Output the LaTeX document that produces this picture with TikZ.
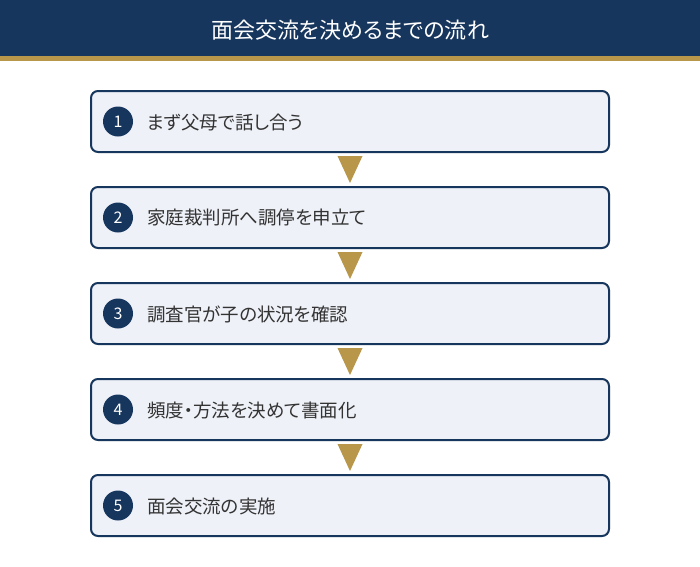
\documentclass[tikz,border=0pt]{standalone}
\usepackage{fontspec}
\setmainfont{Noto Sans CJK JP}[RawFeature=+palt]
\usetikzlibrary{shapes.geometric}
\definecolor{navy}{HTML}{17365D}
\definecolor{gold}{HTML}{B8974A}
\definecolor{boxfill}{HTML}{EEF1F8}
\definecolor{txt}{HTML}{333333}
\tikzset{
  stepbox/.style={draw=navy, line width=2pt, fill=boxfill, rounded corners=7pt,
    minimum width=518pt, minimum height=61pt, inner sep=0pt},
  numdot/.style={circle, fill=navy, minimum size=30pt, inner sep=0pt,
    text=white, font=\fontsize{16}{16}\selectfont},
  steplabel/.style={anchor=west, text=txt, inner sep=0pt, font=\fontsize{18.5}{18.5}\selectfont},
}
\begin{document}
\begin{tikzpicture}[x=1pt,y=-1pt]
\useasboundingbox (0,0) rectangle (700,566);
\fill[white] (0,0) rectangle (700,566);
\fill[navy] (0,0) rectangle (700,55.5);
\fill[gold] (0,55.5) rectangle (700,60.5);
\node[text=white, font=\fontsize{22}{22}\selectfont, inner sep=0pt] (title) at (350,30) {面会交流を決めるまでの流れ};
\foreach \i/\y/\t in {1/121.5/まず父母で話し合う, 2/217.5/家庭裁判所へ調停を申立て, 3/313.5/調査官が子の状況を確認, 4/409.5/頻度・方法を決めて書面化, 5/505.5/面会交流の実施}{
  \node[stepbox] (b\i) at (350,\y) {};
  \node[numdot] (n\i) at (118,\y) {\i};
  \node[steplabel] (l\i) at (147,\y+0.5) {\t};
}
\foreach \y in {156,252,348,444}{
  \fill[gold] (337.5,\y) -- (362.5,\y) -- (350,\y+27) -- cycle;
}
\end{tikzpicture}
\end{document}
